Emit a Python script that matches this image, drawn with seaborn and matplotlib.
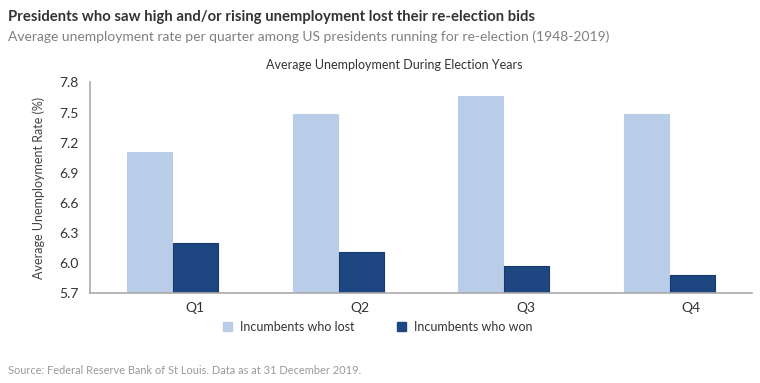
import matplotlib
matplotlib.use("Agg")
import matplotlib.pyplot as plt
import matplotlib.transforms as mtransforms
from matplotlib.patches import Patch
import seaborn as sns
import pandas as pd

quarters = ["Q1", "Q2", "Q3", "Q4"]
lost = [7.11, 7.49, 7.67, 7.49]
won = [6.20, 6.11, 5.97, 5.88]
series_names = ["Incumbents who lost", "Incumbents who won"]
yticks = [5.7, 6.0, 6.3, 6.6, 6.9, 7.2, 7.5, 7.8]

df = pd.DataFrame({
    "Quarter": quarters * 2,
    "Rate": lost + won,
    "Group": [series_names[0]] * 4 + [series_names[1]] * 4,
})

sns.set_theme(style="white")
plt.rcParams["font.family"] = ["Lato", "DejaVu Sans"]

light = "#b9cde8"
dark = "#1e4782"

fig = plt.figure(figsize=(7.6, 3.83), dpi=100)
fig.patch.set_facecolor("white")
ax = fig.add_axes([0.1184, 0.2337, 0.8711, 0.5509])

sns.barplot(data=df, x="Quarter", y="Rate", hue="Group", order=quarters,
            hue_order=series_names, palette=[light, dark], width=0.556,
            gap=0.03, ax=ax, legend=False, saturation=1)

for p in ax.patches:
    fc = p.get_facecolor()
    if abs(fc[0] - 0x1e / 255) < 0.02:
        p.set_edgecolor("#17396b")
    else:
        p.set_edgecolor(light)
    p.set_linewidth(0.8)

ax.set_ylim(5.7, 7.8)
ax.set_yticks(yticks)
ax.set_yticklabels([f"{v:.1f}" for v in yticks])
ax.set_xlim(-0.5, 3.5)
ax.set_xlabel("")
ax.set_ylabel("Average Unemployment Rate (%)", fontsize=9, color="#444444", labelpad=10)
ax.tick_params(axis="both", length=0, labelsize=10, colors="#333333")
ax.tick_params(axis="x", pad=6)
ax.tick_params(axis="y", pad=8)

offset = mtransforms.ScaledTranslation(0.22, 0, fig.dpi_scale_trans)
for lbl in ax.get_xticklabels():
    lbl.set_transform(lbl.get_transform() + offset)

for side in ["top", "right"]:
    ax.spines[side].set_visible(False)
for side in ["left", "bottom"]:
    ax.spines[side].set_color("#aaaaaa")
    ax.spines[side].set_linewidth(1.2)
ax.set_facecolor("white")

ax.set_title("Average Unemployment During Election Years", fontsize=9,
             color="#333333", pad=10, x=0.46)

handles = [Patch(facecolor=light, edgecolor=light), Patch(facecolor=dark, edgecolor=dark)]
fig.legend(handles, series_names, loc="center", bbox_to_anchor=(0.497, 0.146),
           ncol=2, frameon=False, fontsize=9, handlelength=0.75, handleheight=0.75,
           columnspacing=3.4, handletextpad=0.6, labelcolor="#333333")

fig.text(0.010, 0.955, "Presidents who saw high and/or rising unemployment lost their re-election bids",
         fontsize=10.7, fontweight="bold", color="#333333", va="center", ha="left")
fig.text(0.010, 0.903, "Average unemployment rate per quarter among US presidents running for re-election (1948-2019)",
         fontsize=10, color="#808080", va="center", ha="left")
fig.text(0.010, 0.033, "Source: Federal Reserve Bank of St Louis. Data as at 31 December 2019.",
         fontsize=7.9, color="#999999", va="center", ha="left")

fig.savefig("out.png", dpi=100, facecolor="white")
